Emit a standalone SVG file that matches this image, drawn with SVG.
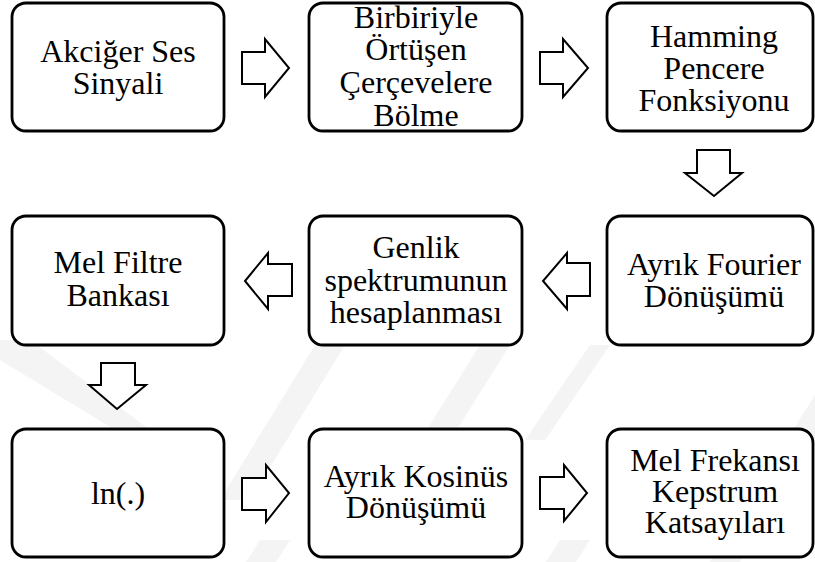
<svg xmlns="http://www.w3.org/2000/svg" width="815" height="562" viewBox="0 0 815 562">
  <style>
    .box { fill: #ffffff; stroke: #000000; stroke-width: 2.8; }
    .arrow { fill: #ffffff; stroke: #000000; stroke-width: 2; stroke-linejoin: miter; }
    .label { font-family: 'Liberation Serif', 'Tinos', 'Times New Roman', Times, 'Nimbus Roman', 'Nimbus Roman No9 L', 'FreeSerif', 'Noto Serif', 'DejaVu Serif', serif; font-size: 32px; fill: #000000; text-anchor: middle; }
    .mark { fill: #f4f4f4; }
  </style>

  <rect width="815" height="562" fill="#ffffff"/>

  <!-- faint background emblem -->
  <g id="emblem">
    <polygon class="mark" points="0,340 30,340 170,445 140,445 0,360"/>
    <polygon class="mark" points="315,345 345,345 250,500 220,500"/>
    <polygon class="mark" points="480,345 510,345 400,520 370,520"/>
    <polygon class="mark" points="590,345 610,345 545,440 525,440"/>
    <polygon class="mark" points="815,395 815,440 740,562 710,562"/>
    <polygon class="mark" points="260,540 290,540 276,562 246,562"/>
    <polygon class="mark" points="560,540 590,540 576,562 546,562"/>
  </g>

  <g id="connectors">
    <path class="arrow" d="M242,52 H265 V39 L289,68 L265,97 V84 H242 Z"/>
    <path class="arrow" d="M540,52 H563 V39 L588,68 L563,97 V84 H540 Z"/>
    <path class="arrow" d="M697,150 H730 V173 H742 L714,196 L685,173 H697 Z"/>
    <path class="arrow" d="M590,263 H567 V253 L543,281 L567,309 V296 H590 Z"/>
    <path class="arrow" d="M292,264 H268 V253 L245,281 L268,309 V296 H292 Z"/>
    <path class="arrow" d="M101,363 H135 V385 H146 L117,409 L89,385 H101 Z"/>
    <path class="arrow" d="M242,478 H266 V465 L289,493 L266,522 V510 H242 Z"/>
    <path class="arrow" d="M540,477 H564 V465 L587,493 L564,521 V509 H540 Z"/>
  </g>

  <g id="signal">
    <rect class="box" x="12" y="3" width="212" height="128" rx="14"/>
    <text class="label" x="118" y="62">Akciğer Ses</text>
    <text class="label" x="118" y="94">Sinyali</text>
  </g>

  <g id="framing">
    <rect class="box" x="309" y="3" width="213" height="128" rx="14"/>
    <text class="label" x="416" y="28">Birbiriyle</text>
    <text class="label" x="416" y="60">Örtüşen</text>
    <text class="label" x="416" y="93">Çerçevelere</text>
    <text class="label" x="416" y="126">Bölme</text>
  </g>

  <g id="hamming">
    <rect class="box" x="607" y="3" width="206" height="128" rx="14"/>
    <text class="label" x="714" y="47">Hamming</text>
    <text class="label" x="714" y="79">Pencere</text>
    <text class="label" x="714" y="111">Fonksiyonu</text>
  </g>

  <g id="dft">
    <rect class="box" x="607" y="216" width="206" height="129" rx="14"/>
    <text class="label" x="714" y="275">Ayrık Fourier</text>
    <text class="label" x="714" y="307">Dönüşümü</text>
  </g>

  <g id="magnitude">
    <rect class="box" x="309" y="216" width="213" height="129" rx="14"/>
    <text class="label" x="416" y="258">Genlik</text>
    <text class="label" x="416" y="291">spektrumunun</text>
    <text class="label" x="416" y="323">hesaplanması</text>
  </g>

  <g id="melbank">
    <rect class="box" x="12" y="216" width="212" height="129" rx="14"/>
    <text class="label" x="118" y="273">Mel Filtre</text>
    <text class="label" x="118" y="306">Bankası</text>
  </g>

  <g id="log">
    <rect class="box" x="12" y="429" width="212" height="128" rx="14"/>
    <text class="label" x="118" y="504">ln(.)</text>
  </g>

  <g id="dct">
    <rect class="box" x="309" y="429" width="213" height="128" rx="14"/>
    <text class="label" x="416" y="487">Ayrık Kosinüs</text>
    <text class="label" x="416" y="518">Dönüşümü</text>
  </g>

  <g id="mfcc">
    <rect class="box" x="607" y="429" width="206" height="128" rx="14"/>
    <text class="label" x="715" y="471">Mel Frekansı</text>
    <text class="label" x="715" y="502">Kepstrum</text>
    <text class="label" x="715" y="533">Katsayıları</text>
  </g>
</svg>
